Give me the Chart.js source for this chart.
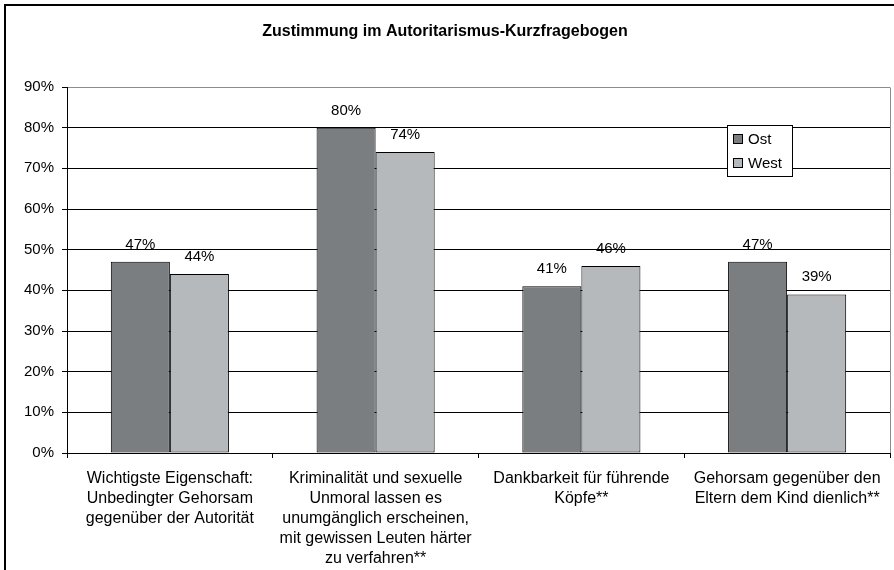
<!DOCTYPE html>
<html>
<head>
<meta charset="utf-8">
<script src="https://cdn.jsdelivr.net/npm/chart.js@4/dist/chart.umd.min.js"></script>
<style>
  html, body { margin: 0; padding: 0; background: #fff; }
  canvas { display: block; }
</style>
</head>
<body>
<canvas id="c" width="894" height="570"></canvas>
<script>
const chartTitle = "Zustimmung im Autoritarismus-Kurzfragebogen";
const categories = [
  ["Wichtigste Eigenschaft:", "Unbedingter Gehorsam", "gegenüber der Autorität"],
  ["Kriminalität und sexuelle", "Unmoral lassen es", "unumgänglich erscheinen,", "mit gewissen Leuten härter", "zu verfahren**"],
  ["Dankbarkeit für führende", "Köpfe**"],
  ["Gehorsam gegenüber den", "Eltern dem Kind dienlich**"]
];
const seriesNames = ["Ost", "West"];
const ostValues = [47, 80, 41, 47];
const westValues = [44, 74, 46, 39];
const yTicks = [0, 10, 20, 30, 40, 50, 60, 70, 80, 90];

const FONT = "'Liberation Sans', Arial, Helvetica, sans-serif";
const colors = ["#7b7e81", "#b5b9bb"];

const framePlugin = {
  id: 'frame',
  beforeDraw(chart) {
    const ctx = chart.ctx;
    ctx.save();
    ctx.fillStyle = '#fff';
    ctx.fillRect(0, 0, chart.width, chart.height);
    ctx.strokeStyle = '#000';
    ctx.lineWidth = 2;
    ctx.beginPath();
    ctx.moveTo(5, chart.height + 5);
    ctx.lineTo(5, 5);
    ctx.lineTo(chart.width + 5, 5);
    ctx.stroke();
    ctx.restore();
  },
  afterDraw(chart) {
    const ctx = chart.ctx;
    const a = chart.chartArea;
    ctx.save();
    // right plot border (grey)
    ctx.strokeStyle = '#8c8c8c';
    ctx.lineWidth = 1;
    ctx.beginPath();
    ctx.moveTo(Math.round(a.right) + 0.5, Math.round(a.top) + 0.5);
    ctx.lineTo(Math.round(a.right) + 0.5, Math.round(a.bottom));
    ctx.stroke();
    // data labels
    ctx.fillStyle = '#000';
    ctx.font = "15px " + FONT;
    ctx.textAlign = 'center';
    ctx.textBaseline = 'alphabetic';
    chart.data.datasets.forEach((ds, i) => {
      const meta = chart.getDatasetMeta(i);
      meta.data.forEach((bar, j) => {
        ctx.fillText(ds.data[j] + '%', bar.x, bar.y - 13);
      });
    });
    // legend box
    const bx = 727, by = 125, bw = 65, bh = 51;
    ctx.fillStyle = '#fff';
    ctx.fillRect(bx, by, bw, bh);
    ctx.strokeStyle = '#000';
    ctx.lineWidth = 1;
    ctx.strokeRect(bx + 0.5, by + 0.5, bw, bh);
    ctx.font = "15px " + FONT;
    ctx.textAlign = 'left';
    ctx.textBaseline = 'middle';
    chart.data.datasets.forEach((ds, i) => {
      const cy = by + 14 + i * 24;
      ctx.fillStyle = ds.backgroundColor;
      ctx.fillRect(bx + 6, cy - 5, 10, 10);
      ctx.strokeStyle = '#000';
      ctx.strokeRect(bx + 6.5, cy - 4.5, 9, 9);
      ctx.fillStyle = '#000';
      ctx.fillText(ds.label, bx + 21, cy + 1);
    });
    ctx.restore();
  }
};

new Chart(document.getElementById('c'), {
  type: 'bar',
  data: {
    labels: categories,
    datasets: [
      { label: seriesNames[0], data: ostValues, backgroundColor: colors[0], borderColor: '#000', borderWidth: 1, borderSkipped: false },
      { label: seriesNames[1], data: westValues, backgroundColor: colors[1], borderColor: '#000', borderWidth: 1, borderSkipped: false }
    ]
  },
  options: {
    responsive: false,
    animation: false,
    layout: { padding: { left: 0, right: 4, top: 22, bottom: 0 } },
    datasets: { bar: { categoryPercentage: 0.574, barPercentage: 1.0 } },
    plugins: {
      legend: { display: false },
      tooltip: { enabled: false },
      title: {
        display: true,
        text: chartTitle,
        color: '#000',
        font: { family: FONT, size: 16, weight: 'bold' },
        padding: { top: 0, bottom: 45.8 }
      }
    },
    scales: {
      x: {
        grid: { display: true, drawOnChartArea: false, offset: true, tickLength: 5, color: '#000' },
        border: { color: '#000', width: 1 },
        ticks: {
          color: '#000', autoSkip: false, maxRotation: 0, minRotation: 0,
          padding: 11,
          font: { family: FONT, size: 16, lineHeight: 1.25 }
        },
        afterFit(scale) { scale.height = 117; }
      },
      y: {
        min: 0, max: 90,
        afterBuildTicks(scale) { scale.ticks = yTicks.map(v => ({ value: v })); },
        grid: {
          color: (c) => (c.tick && c.tick.value === 90 ? '#8c8c8c' : '#000'),
          tickColor: '#000',
          tickLength: 5,
          lineWidth: 1
        },
        border: { color: '#000', width: 1 },
        ticks: {
          color: '#000', padding: 8,
          font: { family: FONT, size: 15 },
          callback: (v) => v + '%'
        },
        afterFit(scale) { scale.width = 67; }
      }
    }
  },
  plugins: [framePlugin]
});
</script>
</body>
</html>
